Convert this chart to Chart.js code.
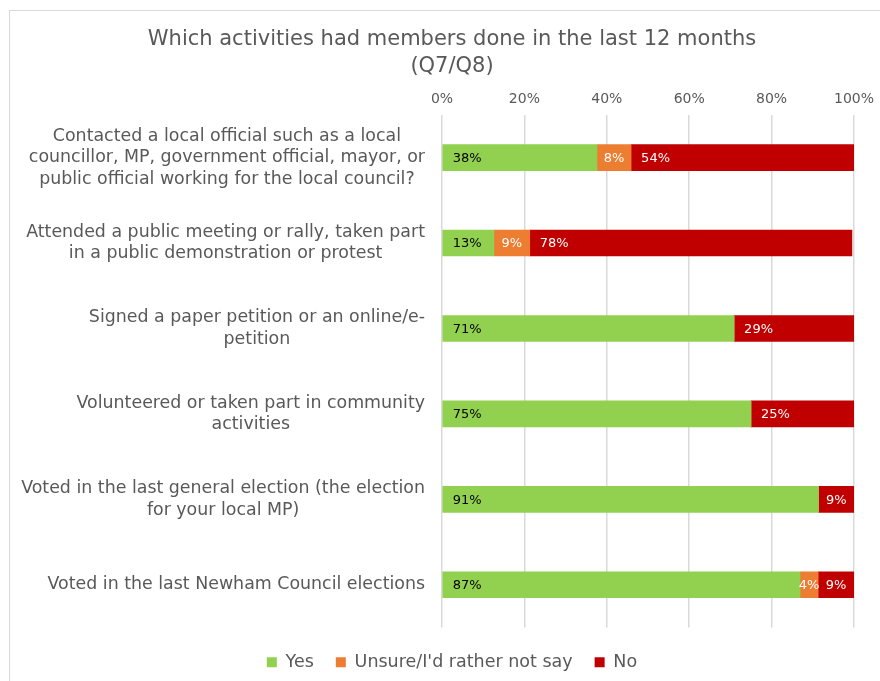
<!DOCTYPE html>
<html>
<head>
<meta charset="utf-8">
<script src="https://cdn.jsdelivr.net/npm/chart.js@4"></script>
<style>
html,body{margin:0;padding:0;background:#fff;overflow:hidden;width:880px;height:681px;}
#frame{position:absolute;left:9px;top:10px;width:900px;height:700px;border:1px solid #d9d9d9;box-sizing:border-box;}
#wrap{position:absolute;left:0;top:0;width:904px;height:681px;}
#probe{position:absolute;left:-2000px;top:0;font-family:'DejaVu Sans';}
</style>
</head>
<body>
<div id="frame"></div>
<span id="probe">Probe 0123%</span>
<div id="wrap"><canvas id="c" width="904" height="681"></canvas></div>
<script>
const categories = [
  ["Contacted a local official such as a local", "councillor, MP, government official, mayor, or", "public official working for the local council?"],
  ["Attended a public meeting or rally, taken part", "in a public demonstration or protest"],
  ["Signed a paper petition or an online/e-", "petition"],
  ["Volunteered or taken part in community", "activities"],
  ["Voted in the last general election (the election", "for your local MP)"],
  ["Voted in the last Newham Council elections"]
];
const seriesNames = ["Yes", "Unsure/I'd rather not say", "No"];
const yesValues    = [37.6, 12.6, 70.9, 75.0, 91.4, 86.9];
const unsureValues = [8.3, 8.7, 0, 0, 0, 4.4];
const noValues     = [54.1, 78.2, 29.1, 25.0, 8.6, 8.7];
const xTicks = [0, 20, 40, 60, 80, 100];
const titleLines = ['Which activities had members done in the last 12 months', '(Q7/Q8)'];

const FONT = "'DejaVu Sans'";
const GREY = '#595959';
const colors = ['#92D050', '#ED7D31', '#C00000'];
const labelColors = ['#000000', '#ffffff', '#ffffff'];

const categoryLabelPlugin = {
  id: 'categoryLabels',
  afterDraw(chart) {
    const ctx = chart.ctx;
    const yScale = chart.scales.y;
    const right = chart.chartArea.left - 17;
    const lh = 21.5;
    ctx.save();
    ctx.font = '17.4px ' + FONT;
    ctx.fillStyle = GREY;
    ctx.textAlign = 'center';
    ctx.textBaseline = 'middle';
    categories.forEach((lines, i) => {
      const yc = yScale.getPixelForValue(i);
      const w = Math.max(...lines.map(l => ctx.measureText(l).width));
      const cx = right - w / 2;
      lines.forEach((l, j) => {
        ctx.fillText(l, cx, yc + (j - (lines.length - 1) / 2) * lh);
      });
    });
    ctx.restore();
  }
};

const barLabelPlugin = {
  id: 'barLabels',
  afterDatasetsDraw(chart) {
    const ctx = chart.ctx;
    ctx.save();
    ctx.font = '13px ' + FONT;
    ctx.textBaseline = 'middle';
    chart.data.datasets.forEach((ds, di) => {
      const meta = chart.getDatasetMeta(di);
      meta.data.forEach((bar, i) => {
        const v = ds.data[i];
        if (!v) return;
        const txt = Math.round(v) + '%';
        const tw = ctx.measureText(txt).width;
        const start = Math.min(bar.base, bar.x);
        const end = Math.max(bar.base, bar.x);
        const w = end - start;
        ctx.fillStyle = labelColors[di];
        if (w < tw + 20) {
          ctx.textAlign = 'center';
          ctx.fillText(txt, (start + end) / 2, bar.y + 1);
        } else {
          ctx.textAlign = 'left';
          ctx.fillText(txt, start + 10, bar.y + 1);
        }
      });
    });
    ctx.restore();
  }
};

function draw() {
  new Chart(document.getElementById('c'), {
    type: 'bar',
    data: {
      labels: categories,
      datasets: [
        { label: seriesNames[0], data: yesValues, backgroundColor: colors[0] },
        { label: seriesNames[1], data: unsureValues, backgroundColor: colors[1] },
        { label: seriesNames[2], data: noValues, backgroundColor: colors[2] }
      ]
    },
    options: {
      indexAxis: 'y',
      responsive: false,
      animation: false,
      devicePixelRatio: 1,
      datasets: { bar: { barThickness: 26, borderWidth: 0 } },
      layout: { padding: { left: 50, right: 50, top: 0, bottom: 0 } },
      scales: {
        x: {
          position: 'top',
          stacked: true,
          min: 0, max: 100,
          afterBuildTicks: s => { s.ticks = xTicks.map(v => ({ value: v })); },
          ticks: { callback: v => v + '%', color: GREY, font: { family: FONT, size: 14 }, padding: 7 },
          grid: { color: '#d9d9d9', lineWidth: 1.5, drawTicks: false },
          border: { display: false }
        },
        x2: {
          type: 'linear',
          position: 'bottom',
          display: true,
          ticks: { display: false },
          grid: { display: false },
          border: { display: false },
          afterFit: s => { s.height = 4; }
        },
        y: {
          stacked: true,
          ticks: { display: false },
          grid: { display: false },
          border: { display: false },
          afterFit: s => { s.width = 392; }
        }
      },
      plugins: {
        title: {
          display: true,
          text: titleLines,
          color: GREY,
          font: { family: FONT, size: 21, weight: 'normal', lineHeight: 1.24 },
          padding: { top: 27, bottom: 5 }
        },
        legend: {
          position: 'bottom',
          labels: { color: GREY, font: { family: FONT, size: 17.5 }, boxWidth: 10, boxHeight: 10, padding: 22 }
        },
        tooltip: { enabled: false }
      }
    },
    plugins: [categoryLabelPlugin, barLabelPlugin]
  });
}

Promise.all([
  document.fonts.load("15px 'DejaVu Sans'"),
  document.fonts.load("13px 'DejaVu Sans'")
]).then(draw, draw);
</script>
</body>
</html>
